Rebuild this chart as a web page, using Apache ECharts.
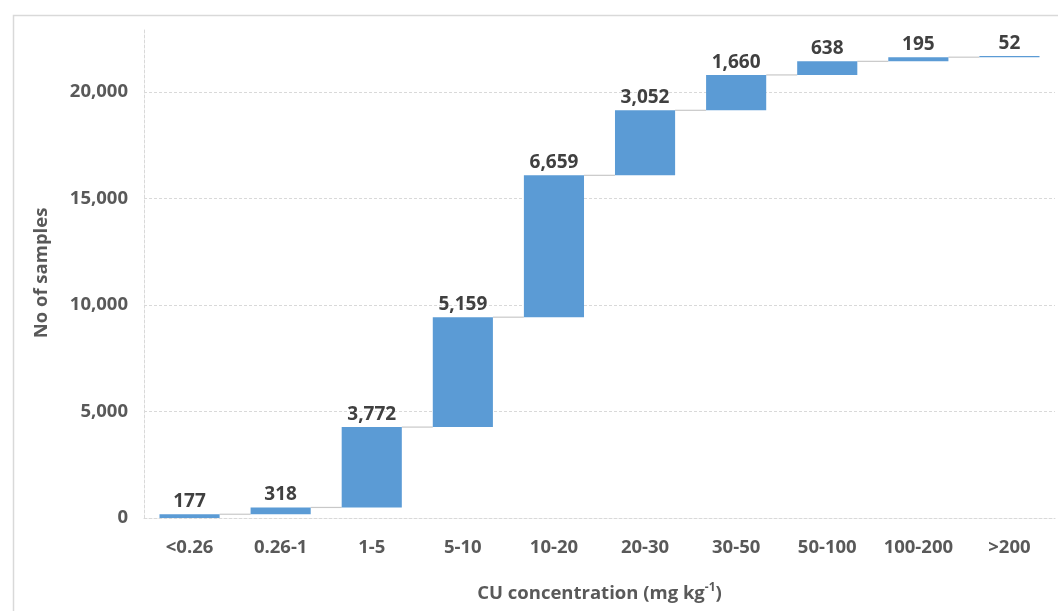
<!DOCTYPE html>
<html>
<head>
<meta charset="utf-8">
<script src="https://cdn.jsdelivr.net/npm/echarts@6/dist/echarts.min.js"></script>
<style>html,body{margin:0;padding:0;background:#fff}#c{width:1058px;height:611px}</style>
</head>
<body>
<div id="c"></div>
<script>
var categories = ['<0.26', '0.26-1', '1-5', '5-10', '10-20', '20-30', '30-50', '50-100', '100-200', '>200'];
var values = [177, 318, 3772, 5159, 6659, 3052, 1660, 638, 195, 52];
var yTicks = [0, 5000, 10000, 15000, 20000];

var bases = [];
var ends = [];
var run = 0;
for (var i = 0; i < values.length; i++) {
  bases.push(run);
  run += values[i];
  ends.push(run);
}
var connectorData = [];
for (var j = 0; j < values.length - 1; j++) connectorData.push([j, ends[j]]);

var FONT = 'Open Sans';
var FS = 18.5;
var BAR_FRAC = 0.66;
var chart = echarts.init(document.getElementById('c'), null, {renderer: 'canvas'});
chart.setOption({
  animation: false,
  backgroundColor: '#fff',
  graphic: [{
    type: 'rect', left: 11, top: 13, shape: {width: 1100, height: 700},
    style: {fill: 'none', stroke: '#d9d9d9', lineWidth: 1.5}, z: 100, silent: true
  }],
  grid: {left: 144, right: 3, top: 28, bottom: 93},
  xAxis: {
    type: 'category', data: categories,
    axisLine: {show: true, lineStyle: {color: '#d9d9d9', type: [3, 2], width: 1}},
    axisTick: {show: false},
    axisLabel: {color: '#595959', fontFamily: FONT, fontWeight: 'bold', fontSize: FS, margin: 20},
    name: '{a|CU concentration (mg kg}{s|-1}{a|)}',
    nameLocation: 'middle', nameGap: 64,
    nameTextStyle: {
      rich: {
        a: {color: '#595959', fontFamily: FONT, fontWeight: 'bold', fontSize: FS},
        s: {color: '#595959', fontFamily: FONT, fontWeight: 'bold', fontSize: 12, verticalAlign: 'top', padding: [0, 0, 12, 0]}
      }
    }
  },
  yAxis: {
    type: 'value', min: 0, max: 23000, interval: 5000,
    axisLine: {show: true, lineStyle: {color: '#d9d9d9', type: [3, 2], width: 1}},
    axisTick: {show: false},
    splitLine: {show: true, showMaxLine: false, lineStyle: {color: '#d9d9d9', type: [3, 2], width: 1}},
    axisLabel: {
      color: '#595959', fontFamily: FONT, fontWeight: 'bold', fontSize: FS, margin: 16, showMaxLabel: false,
      formatter: function (v) { return yTicks.indexOf(v) >= 0 ? v.toLocaleString('en-US') : ''; }
    },
    name: 'No of samples', nameLocation: 'middle', nameGap: 93, nameRotate: 90,
    nameTextStyle: {color: '#595959', fontFamily: FONT, fontWeight: 'bold', fontSize: FS}
  },
  series: [
    {
      type: 'bar', stack: 'w', data: bases, barWidth: (BAR_FRAC * 100) + '%',
      itemStyle: {color: 'transparent'}, silent: true
    },
    {
      type: 'bar', stack: 'w', data: values, barWidth: (BAR_FRAC * 100) + '%',
      itemStyle: {color: '#5b9bd5'},
      label: {
        show: true, position: 'top', distance: 3,
        color: '#404040', fontFamily: FONT, fontWeight: 'bold', fontSize: 19,
        formatter: function (p) { return p.value.toLocaleString('en-US'); }
      }
    },
    {
      type: 'custom', data: connectorData, silent: true, z: 1,
      renderItem: function (params, api) {
        var idx = api.value(0), y = api.value(1);
        var band = api.size([1, 0])[0];
        var p1 = api.coord([idx, y]);
        var p2 = api.coord([idx + 1, y]);
        return {
          type: 'line',
          shape: {x1: p1[0] + band * BAR_FRAC / 2, y1: p1[1], x2: p2[0] - band * BAR_FRAC / 2, y2: p2[1]},
          style: {stroke: '#c8c8c8', lineWidth: 1.2}
        };
      }
    }
  ]
});
</script>
</body>
</html>
